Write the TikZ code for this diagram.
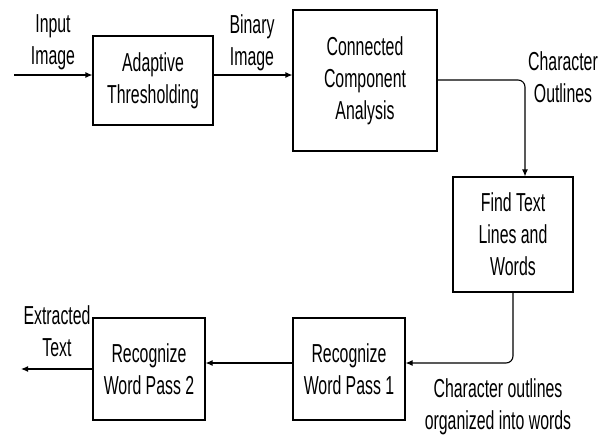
\documentclass[tikz,border=0pt]{standalone}
\usepackage{fontspec}
\setmainfont{Liberation Sans}[FakeStretch=0.61]
\usetikzlibrary{arrows.meta}
\begin{document}
\begin{tikzpicture}[x=1pt,y=-1pt,
  every node/.style={font=\fontsize{26}{32}\selectfont, align=center, inner sep=0pt},
  stage/.style={draw, line width=1.1pt},
  conn/.style={draw, line width=1.1pt, -{Latex[length=7pt,width=6pt]}},
  lbl/.style={}]
\useasboundingbox (0,0) rectangle (614,437);
% boxes
\node[stage, minimum width=120pt, minimum height=89pt] (at) at (153,80.5) {Adaptive\\Thresholding};
\node[stage, minimum width=144pt, minimum height=141pt] (cca) at (365,80.5) {Connected\\Component\\Analysis};
\node[stage, minimum width=120pt, minimum height=115pt] (ft) at (513,234.5) {Find Text\\Lines and\\Words};
\node[stage, minimum width=112pt, minimum height=102pt] (wp1) at (349,369) {Recognize\\Word Pass 1};
\node[stage, minimum width=112pt, minimum height=102pt] (wp2) at (149,369) {Recognize\\Word Pass 2};
% labels
\node[lbl] (lin) at (53,42.5) {Input\\Image};
\node[lbl] (lbin) at (252,42.5) {Binary\\Image};
\node[lbl] (lco) at (563,77.5) {Character\\Outlines};
\node[lbl] (lex) at (57,331) {Extracted\\Text};
\node[lbl] (lcw) at (498,407) {Character outlines\\organized into words};
% free ends
\coordinate (src) at (14,75);
\coordinate (snk) at (21,369);
\coordinate (bend1) at (525,80);
\coordinate (bend2) at (513,363);
% connectors
\draw[conn] (src) -- (src -| at.west);
\draw[conn] (at.east |- src) -- (cca.west |- src);
\draw[conn, rounded corners=7pt] (cca.east |- bend1) -- (bend1) -- (bend1 |- ft.north);
\draw[conn, rounded corners=7pt] (bend2 |- ft.south) -- (bend2) -- (wp1.east |- bend2);
\draw[conn] (wp1.west |- bend2) -- (wp2.east |- bend2);
\draw[conn] (wp2.west) -- (snk);
\end{tikzpicture}
\end{document}
